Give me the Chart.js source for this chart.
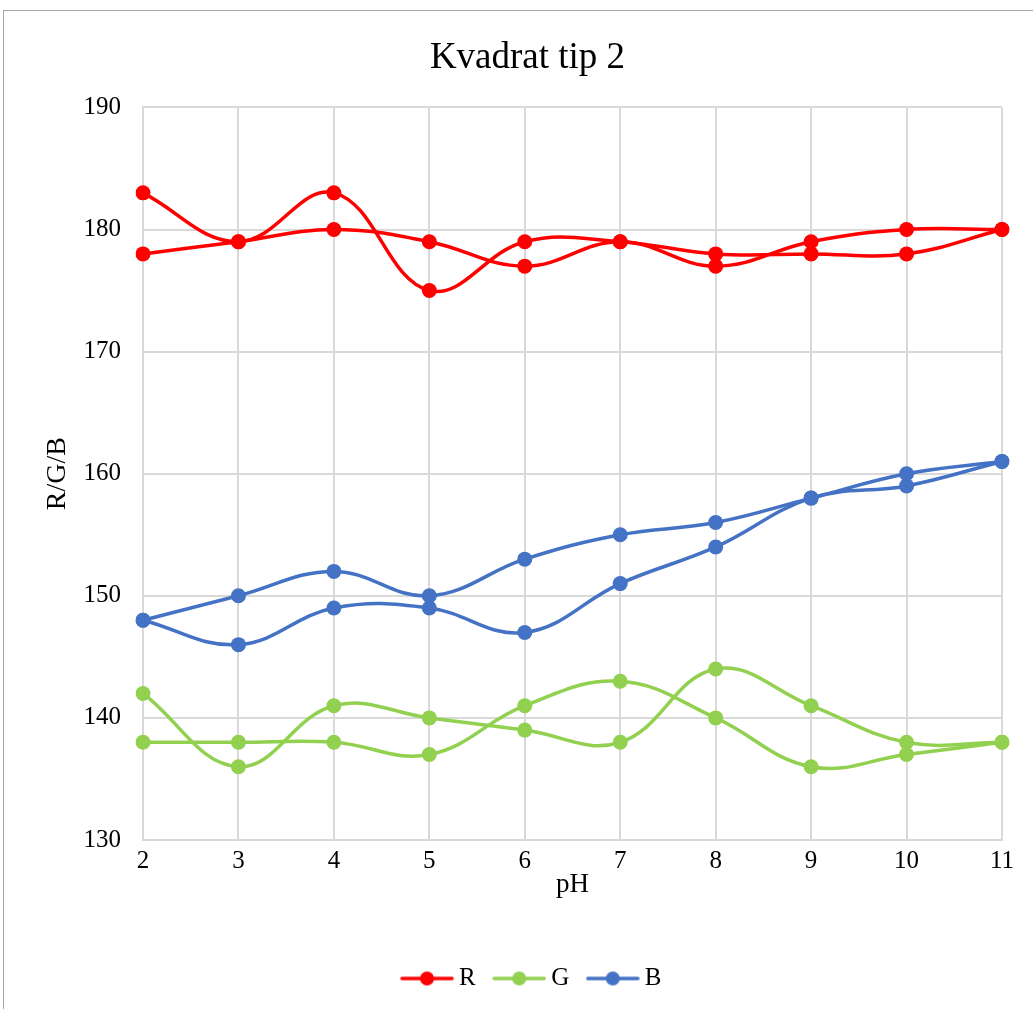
<!DOCTYPE html>
<html>
<head>
<meta charset="utf-8">
<script src="https://cdn.jsdelivr.net/npm/chart.js@4.4.1/dist/chart.umd.min.js"></script>
<style>
  html, body { margin: 0; padding: 0; background: #ffffff; }
  #wrap { position: relative; width: 1033px; height: 1009px; overflow: hidden; background: #ffffff; }
  #frame { position: absolute; left: 3px; top: 10px; width: 1100px; height: 1100px;
           border-left: 1px solid #a6a6a6; border-top: 1px solid #a6a6a6; box-sizing: border-box; }
  canvas { position: absolute; left: 0; top: 0; }
</style>
</head>
<body>
<div id="wrap">
  <div id="frame"></div>
  <canvas id="chart" width="1033" height="1009"></canvas>
</div>
<script>
// pH values on the horizontal axis
const phLabels = ['2', '3', '4', '5', '6', '7', '8', '9', '10', '11'];

// Two measurement runs per colour channel
const red1   = [183, 179, 183, 175, 179, 179, 178, 178, 178, 180];
const red2   = [178, 179, 180, 179, 177, 179, 177, 179, 180, 180];
const green1 = [142, 136, 141, 140, 139, 138, 144, 141, 138, 138];
const green2 = [138, 138, 138, 137, 141, 143, 140, 136, 137, 138];
const blue1  = [148, 150, 152, 150, 153, 155, 156, 158, 160, 161];
const blue2  = [148, 146, 149, 149, 147, 151, 154, 158, 159, 161];

const yTicks = [130, 140, 150, 160, 170, 180, 190];

const RED = '#ff0000';
const GREEN = '#92d050';
const BLUE = '#4472c4';
const SERIF = "'Liberation Serif', 'Times New Roman', serif";

function series(label, data, color) {
  return {
    label: label,
    data: data,
    borderColor: color,
    backgroundColor: color,
    borderWidth: 3.5,
    pointRadius: 7.5,
    pointHoverRadius: 7.5,
    pointBorderWidth: 0,
    pointBackgroundColor: color,
    tension: 0.4,
    fill: false
  };
}

// Legend marker: a short line with a dot in the middle
function legendIcon(color) {
  const c = document.createElement('canvas');
  c.width = 54; c.height = 16;
  const g = c.getContext('2d');
  g.strokeStyle = color;
  g.lineWidth = 3.5;
  g.lineCap = 'round';
  g.beginPath(); g.moveTo(2, 8); g.lineTo(52, 8); g.stroke();
  g.fillStyle = color;
  g.beginPath(); g.arc(27, 8, 7, 0, Math.PI * 2); g.fill();
  return c;
}

const legendEntries = [
  { text: 'R', color: RED, datasetIndex: 0 },
  { text: 'G', color: GREEN, datasetIndex: 2 },
  { text: 'B', color: BLUE, datasetIndex: 4 }
];

// Nudges the title and legend boxes sideways after layout
const boxShift = {
  id: 'boxShift',
  afterLayout(chart) {
    if (chart.legend) {
      chart.legend.left += 13;
      chart.legend.right += 13;
    }
    if (chart.titleBlock) {
      chart.titleBlock.left += 6;
      chart.titleBlock.right += 6;
    }
  }
};

new Chart(document.getElementById('chart'), {
  type: 'line',
  data: {
    labels: phLabels,
    datasets: [
      series('R', red1, RED),
      series('R', red2, RED),
      series('G', green1, GREEN),
      series('G', green2, GREEN),
      series('B', blue1, BLUE),
      series('B', blue2, BLUE)
    ]
  },
  plugins: [boxShift],
  options: {
    responsive: false,
    animation: false,
    events: [],
    layout: { padding: { left: 41, right: 31, top: 0, bottom: 8 } },
    plugins: {
      title: {
        display: true,
        text: 'Kvadrat tip 2',
        color: '#000000',
        font: { family: SERIF, size: 37, weight: 'normal' },
        padding: { top: 36, bottom: 27 }
      },
      legend: {
        position: 'bottom',
        labels: {
          color: '#000000',
          font: { family: SERIF, size: 25 },
          usePointStyle: true,
          pointStyleWidth: 39,
          boxHeight: 16,
          padding: 24,
          generateLabels: function () {
            return legendEntries.map(e => ({
              text: e.text,
              fillStyle: e.color,
              strokeStyle: e.color,
              lineWidth: 0,
              pointStyle: legendIcon(e.color),
              datasetIndex: e.datasetIndex,
              hidden: false,
              fontColor: '#000000'
            }));
          }
        }
      },
      tooltip: { enabled: false }
    },
    scales: {
      x: {
        type: 'category',
        offset: false,
        grid: { color: '#d9d9d9', lineWidth: 2, drawTicks: false },
        border: { color: '#d9d9d9', width: 2 },
        ticks: { color: '#000000', font: { family: SERIF, size: 25 }, padding: 6, maxRotation: 0 },
        title: { display: true, text: 'pH', color: '#000000', font: { family: SERIF, size: 27 },
                 padding: { top: 0, bottom: 41 } },
        afterFit: function (scale) { scale.height = 102; }
      },
      y: {
        min: 130,
        max: 190,
        afterBuildTicks: function (scale) { scale.ticks = yTicks.map(v => ({ value: v })); },
        grid: { color: '#d9d9d9', lineWidth: 2, drawTicks: false },
        border: { color: '#d9d9d9', width: 2 },
        ticks: { color: '#000000', font: { family: SERIF, size: 25 }, padding: 22 },
        title: { display: true, text: 'R/G/B', color: '#000000', font: { family: SERIF, size: 28 }, padding: 0 },
        afterFit: function (scale) { scale.width = 102; }
      }
    }
  }
});
</script>
</body>
</html>
